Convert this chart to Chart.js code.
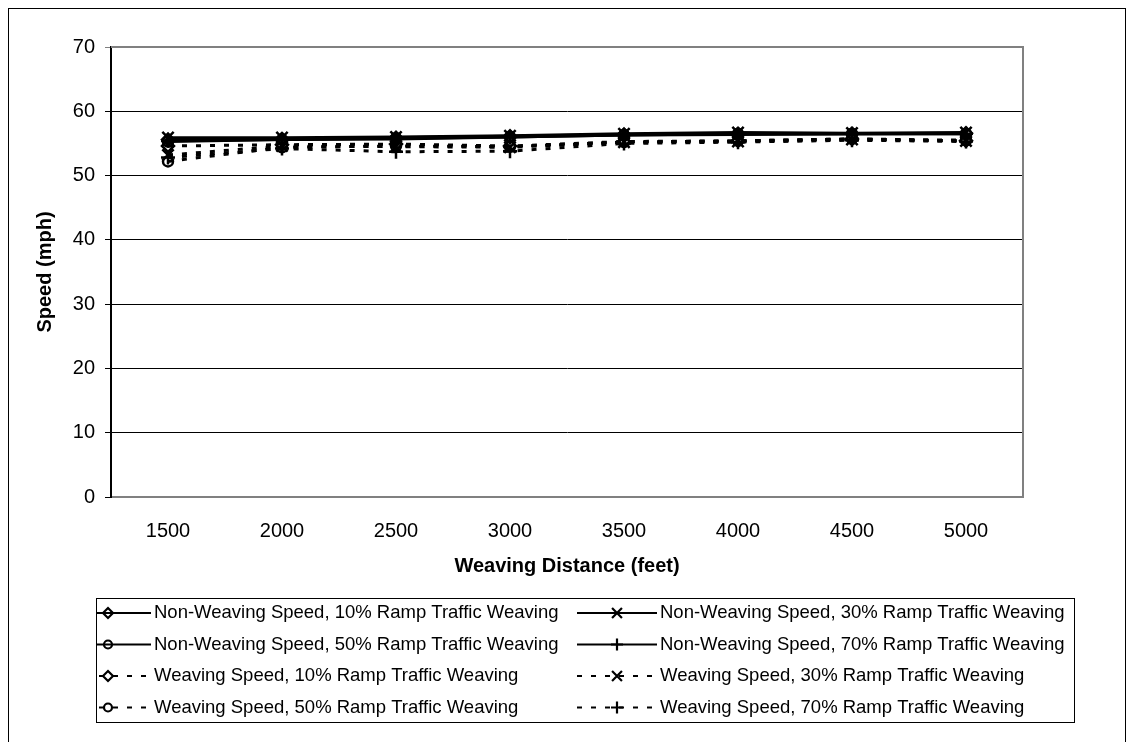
<!DOCTYPE html>
<html>
<head>
<meta charset="utf-8">
<script src="https://cdn.jsdelivr.net/npm/chart.js@4/dist/chart.umd.min.js"></script>
<style>
  html, body { margin: 0; padding: 0; background: #fff; overflow: hidden; }
  #frame { position: absolute; left: 8px; top: 8px; width: 1118px; height: 900px; border: 1px solid #000; box-sizing: border-box; }
  #c { position: absolute; left: 0; top: 0; }
</style>
</head>
<body>
<div id="frame"></div>
<canvas id="c" width="1135" height="742"></canvas>
<script>
// ---- data ----
const distances = ['1500', '2000', '2500', '3000', '3500', '4000', '4500', '5000'];
const yTicks = [0, 10, 20, 30, 40, 50, 60, 70];

const nonWeaving10 = [55.6, 55.7, 55.9, 56.1, 56.4, 56.5, 56.5, 56.6];
const nonWeaving30 = [55.9, 55.9, 56.0, 56.2, 56.5, 56.7, 56.6, 56.7];
const nonWeaving50 = [55.3, 55.6, 55.8, 56.0, 56.3, 56.5, 56.5, 56.5];
const nonWeaving70 = [55.4, 55.6, 55.7, 56.0, 56.3, 56.4, 56.5, 56.5];
const weaving10    = [54.6, 54.8, 54.9, 54.6, 55.3, 55.4, 55.7, 55.4];
const weaving30    = [53.2, 54.6, 54.5, 54.4, 55.2, 55.3, 55.6, 55.4];
const weaving50    = [52.2, 54.4, 54.6, 54.5, 55.2, 55.4, 55.7, 55.5];
const weaving70    = [52.8, 54.2, 53.7, 53.8, 55.0, 55.2, 55.5, 55.3];

const seriesLabels = [
  'Non-Weaving Speed, 10% Ramp Traffic Weaving',
  'Non-Weaving Speed, 30% Ramp Traffic Weaving',
  'Non-Weaving Speed, 50% Ramp Traffic Weaving',
  'Non-Weaving Speed, 70% Ramp Traffic Weaving',
  'Weaving Speed, 10% Ramp Traffic Weaving',
  'Weaving Speed, 30% Ramp Traffic Weaving',
  'Weaving Speed, 50% Ramp Traffic Weaving',
  'Weaving Speed, 70% Ramp Traffic Weaving'
];
const seriesValues = [nonWeaving10, nonWeaving30, nonWeaving50, nonWeaving70,
                      weaving10, weaving30, weaving50, weaving70];

// ---- styles ----
const markerStyles = ['rectRot', 'crossRot', 'circle', 'cross'];
const markerRadius = { rectRot: 6, crossRot: 8, circle: 5, cross: 7 };
const DASH = [5, 9];
const FONT = '"Liberation Sans", Arial, sans-serif';

const datasets = seriesValues.map((vals, i) => {
  const st = markerStyles[i % 4];
  const dashed = i >= 4;
  return {
    label: seriesLabels[i],
    data: vals,
    borderColor: '#000',
    backgroundColor: 'rgba(0,0,0,0)',
    borderWidth: 3,
    borderDash: dashed ? DASH : [],
    tension: 0,
    fill: false,
    pointStyle: st,
    pointRadius: markerRadius[st],
    pointHoverRadius: markerRadius[st],
    pointBorderColor: '#000',
    pointBackgroundColor: 'rgba(0,0,0,0)',
    pointBorderWidth: 2.5
  };
});

// draw a marker for the legend
function drawMarker(ctx, style, x, y, r) {
  ctx.beginPath();
  if (style === 'rectRot') {
    ctx.moveTo(x - r, y); ctx.lineTo(x, y - r); ctx.lineTo(x + r, y); ctx.lineTo(x, y + r); ctx.closePath();
  } else if (style === 'circle') {
    ctx.arc(x, y, r, 0, Math.PI * 2);
  } else if (style === 'crossRot') {
    const o = r * Math.SQRT1_2;
    ctx.moveTo(x - o, y - o); ctx.lineTo(x + o, y + o);
    ctx.moveTo(x - o, y + o); ctx.lineTo(x + o, y - o);
  } else if (style === 'cross') {
    ctx.moveTo(x, y - r); ctx.lineTo(x, y + r);
    ctx.moveTo(x - r, y); ctx.lineTo(x + r, y);
  }
  ctx.stroke();
}

const plotFramePlugin = {
  id: 'plotFrame',
  beforeDatasetsDraw(chart) {
    const { ctx, chartArea: a } = chart;
    ctx.save();
    ctx.strokeStyle = '#808080';
    ctx.lineWidth = 2;
    ctx.beginPath();
    ctx.moveTo(a.left, a.top); ctx.lineTo(a.right, a.top); ctx.lineTo(a.right, a.bottom);
    ctx.stroke();
    ctx.restore();
  }
};

const legendBox = { left: 96, top: 598, right: 1074, bottom: 722 };
const legendPlugin = {
  id: 'boxLegend',
  afterDraw(chart) {
    const ctx = chart.ctx;
    ctx.save();
    ctx.strokeStyle = '#000';
    ctx.lineWidth = 1;
    ctx.strokeRect(legendBox.left + 0.5, legendBox.top + 0.5, legendBox.right - legendBox.left, legendBox.bottom - legendBox.top);
    ctx.beginPath();
    ctx.rect(legendBox.left + 1, legendBox.top + 1, legendBox.right - legendBox.left - 1, legendBox.bottom - legendBox.top - 1);
    ctx.clip();
    ctx.font = '18.5px ' + FONT;
    ctx.textBaseline = 'middle';
    ctx.fillStyle = '#000';
    chart.data.datasets.forEach((ds, i) => {
      const col = i % 2;
      const row = Math.floor(i / 2);
      const y = 613 + row * 31.5;
      const x1 = col ? 657 : 151;
      const x0 = x1 - 80;
      const mx = col ? (x0 + x1) / 2 : 108;
      ctx.strokeStyle = '#000';
      ctx.lineWidth = 2;
      ctx.setLineDash(ds.borderDash || []);
      ctx.beginPath();
      ctx.moveTo(x0, y); ctx.lineTo(x1, y);
      ctx.stroke();
      ctx.setLineDash([]);
      ctx.lineWidth = 2.2;
      drawMarker(ctx, ds.pointStyle, mx, y, ds.pointRadius - 1);
      ctx.fillText(ds.label, x1 + 3, y);
    });
    ctx.restore();
  }
};

new Chart(document.getElementById('c'), {
  type: 'line',
  data: { labels: distances, datasets },
  plugins: [plotFramePlugin, legendPlugin],
  options: {
    responsive: false,
    animation: false,
    devicePixelRatio: 1,
    layout: { padding: { left: 0, top: 47, right: 112, bottom: 155 } },
    plugins: { legend: { display: false }, tooltip: { enabled: false } },
    scales: {
      x: {
        type: 'category',
        offset: true,
        grid: { display: false },
        border: { display: true, color: '#808080', width: 2 },
        ticks: { color: '#000', padding: 14, font: { family: FONT, size: 20 }, maxRotation: 0, autoSkip: false },
        title: { display: true, text: 'Weaving Distance (feet)', color: '#000',
                 font: { family: FONT, size: 20, weight: 'bold' },
                 padding: { top: 0, bottom: 9 } },
        afterFit(scale) { scale.height = 90; }
      },
      y: {
        min: 0, max: 70,
        afterBuildTicks(scale) { scale.ticks = yTicks.map(v => ({ value: v })); },
        grid: {
          color: (c) => (c.tick && c.tick.value === 70 ? '#808080' : '#000'),
          lineWidth: 1,
          tickLength: 6,
          drawTicks: true
        },
        border: { display: true, color: '#000', width: 2 },
        ticks: { color: '#000', padding: 10, font: { family: FONT, size: 20 } },
        title: { display: true, text: 'Speed (mph)', color: '#000',
                 font: { family: FONT, size: 20, weight: 'bold' },
                 padding: { top: 33, bottom: 0 } },
        afterFit(scale) { scale.width = 111; }
      }
    }
  }
});
</script>
</body>
</html>
